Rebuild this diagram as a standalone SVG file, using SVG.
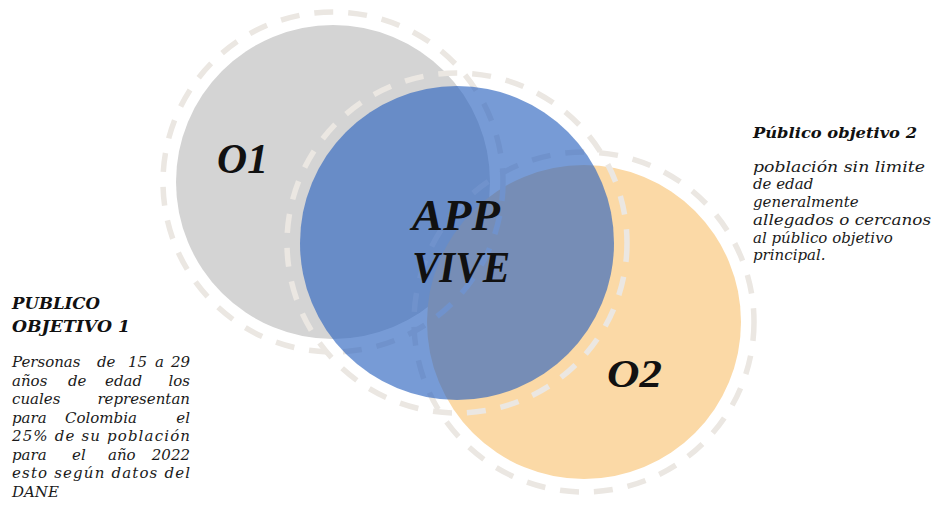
<svg xmlns="http://www.w3.org/2000/svg" width="933" height="523" viewBox="0 0 933 523">
<style>
.ring{fill:none;stroke:#ebe7e2;stroke-width:5.5;stroke-dasharray:19 15}
.big{font-family:"Liberation Serif",serif;font-weight:bold;font-style:italic;fill:#111}
.hd{font-family:"DejaVu Serif",serif;font-weight:bold;font-style:italic;fill:#111}
.bd{font-family:"DejaVu Serif",serif;font-style:italic;font-size:15px;fill:#1a1a1a}
.e{text-anchor:end}
</style>
<rect width="933" height="523" fill="#fff"/>
<g id="node-o1">
<circle cx="333" cy="182" r="157" fill="#d4d4d4"/>
</g>
<g id="node-o2">
<circle cx="584" cy="322" r="157" fill="#fbd9a6"/>
</g>
<g id="rings">
<circle class="ring" cx="333" cy="182" r="170"/>
<circle class="ring" cx="457" cy="243" r="170"/>
<circle class="ring" cx="584" cy="322" r="170"/>
</g>
<g id="node-app">
<circle cx="457" cy="243" r="157" fill="#2a63bf" fill-opacity="0.64"/>
<text class="big" x="412" y="230" font-size="45" textLength="88" lengthAdjust="spacingAndGlyphs">APP</text>
<text class="big" x="412" y="282" font-size="45" textLength="98" lengthAdjust="spacingAndGlyphs">VIVE</text>
</g>
<g id="label-o1">
<text class="big" x="217" y="173" font-size="42" textLength="51" lengthAdjust="spacingAndGlyphs">O1</text>
</g>
<g id="label-o2">
<text class="big" x="607" y="387" font-size="41" textLength="55" lengthAdjust="spacingAndGlyphs">O2</text>
</g>
<g id="connectors"/>
<g id="text-publico1">
<text class="hd" x="12" y="309" font-size="16" textLength="88" lengthAdjust="spacingAndGlyphs">PUBLICO</text>
<text class="hd" x="12" y="332" font-size="16" textLength="118" lengthAdjust="spacingAndGlyphs">OBJETIVO 1</text>
<g class="bd">
<text y="367"><tspan x="12">Personas</tspan><tspan x="97">de</tspan><tspan x="128">15</tspan><tspan x="155">a</tspan></text>
<text class="e" x="190" y="367">29</text>
<text y="386"><tspan x="12">años</tspan><tspan x="68">de</tspan><tspan x="105">edad</tspan></text>
<text class="e" x="190" y="386">los</text>
<text x="12" y="404">cuales</text>
<text class="e" x="190" y="404">representan</text>
<text y="423"><tspan x="12">para</tspan><tspan x="65">Colombia</tspan></text>
<text class="e" x="190" y="423">el</text>
<text x="12" y="441" textLength="178" lengthAdjust="spacing">25% de su población</text>
<text y="460"><tspan x="12">para</tspan><tspan x="72">el</tspan><tspan x="108">año</tspan></text>
<text class="e" x="190" y="460">2022</text>
<text x="12" y="478" textLength="178" lengthAdjust="spacing">esto según datos del</text>
<text x="12" y="497">DANE</text>
</g>
</g>
<g id="text-publico2">
<text class="hd" x="753" y="138" font-size="15" textLength="164" lengthAdjust="spacingAndGlyphs">Público objetivo 2</text>
<g class="bd">
<text x="753" y="172" textLength="172" lengthAdjust="spacingAndGlyphs">población sin limite</text>
<text x="753" y="189">de edad</text>
<text x="753" y="207">generalmente</text>
<text x="753" y="225" textLength="178" lengthAdjust="spacingAndGlyphs">allegados o cercanos</text>
<text x="753" y="243">al público objetivo</text>
<text x="753" y="260">principal.</text>
</g>
</g>
</svg>
